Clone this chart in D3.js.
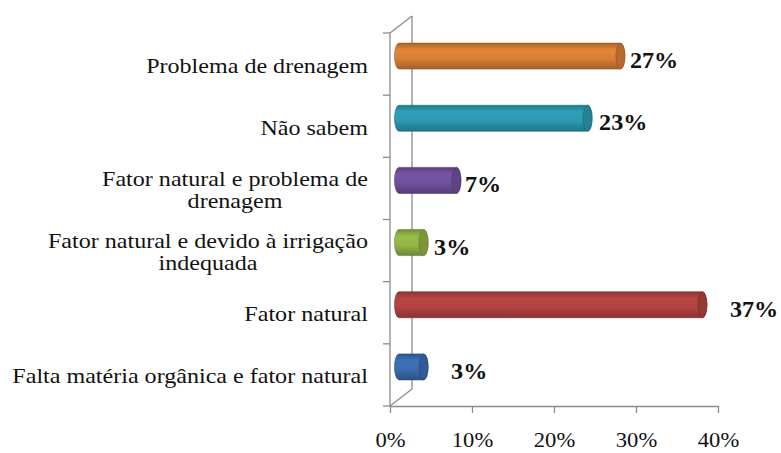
<!DOCTYPE html>
<html>
<head>
<meta charset="utf-8">
<script src="https://cdn.jsdelivr.net/npm/d3@7/dist/d3.min.js"></script>
<style>
  html, body { margin: 0; padding: 0; background: #fff; }
  svg { display: block; }
</style>
</head>
<body>
<div id="chart"></div>
<script>
// categories top to bottom, each as its own lines of text
const categories = [
    "Problema de drenagem",
    "Não sabem",
    "Fator natural e problema de drenagem",
    "Fator natural e devido à irrigação indequada",
    "Fator natural",
    "Falta matéria orgânica e fator natural"
];
const labelLines = [
    ["Problema de drenagem"],
    ["Não sabem"],
    ["Fator natural e problema de", "drenagem"],
    ["Fator natural e devido à irrigação", "indequada"],
    ["Fator natural"],
    ["Falta matéria orgânica e fator natural"]
];
const values = [0.27, 0.23, 0.07, 0.03, 0.37, 0.03];
const valueLabels = ["27%", "23%", "7%", "3%", "37%", "3%"];
const xTicks = [0, 0.1, 0.2, 0.3, 0.4];
const xTickLabels = ["0%", "10%", "20%", "30%", "40%"];

const barColors = ["#D98036", "#2C9AB1", "#71519F", "#94B545", "#B24341", "#3B6DB1"];
// extra space between bar end and its label, as in the original
const labelGap = [5, 7, 4, 6, 23, 23];

const width = 781, height = 453;
const depthX = 22, depthY = -17;      // back wall offset
const barDX = 9, barDY = -8;          // bar position inside the depth
const barR = 13, capRx = 4.5;
const labelRight = 368;
const stretch = 1.12;                 // original text is a bit wide

const svg = d3.select("#chart")
    .append("svg")
    .attr("width", width)
    .attr("height", height);

const x = d3.scaleLinear().domain([0, 0.4]).range([390, 718]);
const y = d3.scaleBand().domain(categories).range([33, 406]).padding(0);

const axisColor = "#8c8c8c";
const serif = "Liberation Serif";

// gradients for cylinders
const defs = svg.append("defs");
barColors.forEach(function (c, i) {
    const base = d3.color(c);
    const g = defs.append("linearGradient")
        .attr("id", "grad" + i)
        .attr("x1", 0).attr("y1", 0).attr("x2", 0).attr("y2", 1);
    g.append("stop").attr("offset", "0%").attr("stop-color", base.darker(0.7));
    g.append("stop").attr("offset", "25%").attr("stop-color", base.brighter(0.1));
    g.append("stop").attr("offset", "60%").attr("stop-color", base);
    g.append("stop").attr("offset", "100%").attr("stop-color", base.darker(0.8));
});

// walls
const walls = svg.append("g")
    .attr("fill", "none")
    .attr("stroke", axisColor)
    .attr("stroke-width", 1.3);

walls.append("line")
    .attr("x1", x(0)).attr("y1", 33)
    .attr("x2", x(0)).attr("y2", 406);
walls.append("line")
    .attr("x1", x(0) + depthX).attr("y1", 33 + depthY)
    .attr("x2", x(0) + depthX).attr("y2", 406 + depthY);
walls.append("line")
    .attr("x1", x(0)).attr("y1", 33)
    .attr("x2", x(0) + depthX).attr("y2", 33 + depthY);
walls.append("line")
    .attr("x1", x(0)).attr("y1", 406)
    .attr("x2", x(0) + depthX).attr("y2", 406 + depthY);

// left axis ticks at band edges
const edges = categories.map(d => y(d)).concat([406]);
walls.selectAll(".ytick")
    .data(edges)
    .join("line")
    .attr("x1", x(0) - 7).attr("x2", x(0))
    .attr("y1", d => d).attr("y2", d => d);

// bottom axis
const xAxis = svg.append("g")
    .attr("transform", "translate(0,406)")
    .call(d3.axisBottom(x).tickValues(xTicks).tickSize(7).tickSizeOuter(0)
        .tickFormat((d, i) => xTickLabels[i]));
xAxis.attr("font-family", serif).attr("font-size", 21);
xAxis.select(".domain").attr("stroke", axisColor).attr("stroke-width", 1.3);
xAxis.selectAll(".tick line").attr("stroke", axisColor).attr("stroke-width", 1.3);
xAxis.selectAll(".tick text")
    .attr("y", 34)
    .attr("dy", "0.32em")
    .attr("fill", "#111")
    .attr("transform", `scale(${stretch * 0.96},1)`);

// category labels
const catLabels = svg.append("g")
    .attr("transform", `translate(${labelRight},0) scale(${stretch},1)`)
    .attr("fill", "#111")
    .attr("font-family", serif)
    .attr("font-size", 21.5);

categories.forEach(function (c, i) {
    const lines = labelLines[i];
    const cy = y(c) + y.bandwidth() / 2;
    const lh = 22.5;
    const t = catLabels.append("text")
        .attr("y", cy - (lines.length - 1) * lh / 2 + 1)
        .attr("dy", "0.35em");
    const first = t.append("tspan")
        .attr("x", 0)
        .attr("text-anchor", "end")
        .text(lines[0]);
    if (lines.length > 1) {
        const w = first.node().getComputedTextLength();
        t.append("tspan")
            .attr("x", -w / 2)
            .attr("dy", lh)
            .attr("text-anchor", "middle")
            .text(lines[1]);
    }
});

// bars
const bars = svg.append("g");
const valueText = svg.append("g")
    .attr("fill", "#111")
    .attr("font-family", serif)
    .attr("font-weight", "bold")
    .attr("font-size", 23);

categories.forEach(function (c, i) {
    const cy = y(c) + y.bandwidth() / 2 + barDY;
    const xs = x(0) + barDX;
    const xe = x(values[i]) + barDX;
    const top = cy - barR, bot = cy + barR;
    const col = d3.color(barColors[i]);
    const g = bars.append("g");
    g.append("path")
        .attr("d", `M${xs},${top} L${xe},${top} A${capRx},${barR} 0 0 1 ${xe},${bot} L${xs},${bot} A${capRx},${barR} 0 0 1 ${xs},${top} Z`)
        .attr("fill", `url(#grad${i})`)
        .attr("stroke", col.darker(1))
        .attr("stroke-width", 0.6);
    g.append("ellipse")
        .attr("cx", xe).attr("cy", cy)
        .attr("rx", capRx).attr("ry", barR)
        .attr("fill", col.darker(0.5))
        .attr("stroke", col.darker(1.2))
        .attr("stroke-width", 0.6);

    const lx = xe + capRx + labelGap[i];
    valueText.append("text")
        .attr("transform", `translate(${lx},${cy + 4}) scale(1.05,1)`)
        .attr("dy", "0.35em")
        .text(valueLabels[i]);
});
</script>
</body>
</html>
